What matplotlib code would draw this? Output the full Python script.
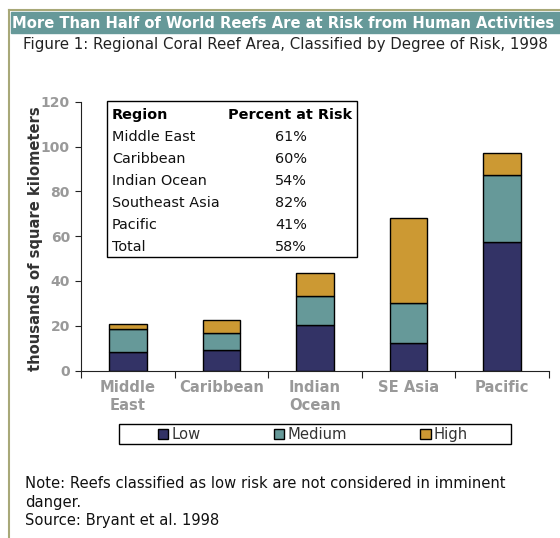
import matplotlib.pyplot as plt
from matplotlib.patches import Rectangle, Patch
import numpy as np

# data (thousands of km2)
regions = ["Middle\nEast", "Caribbean", "Indian\nOcean", "SE Asia", "Pacific"]
low = [8.2, 9.0, 20.1, 12.5, 57.2]
medium = [10.2, 7.6, 13.2, 17.8, 30.1]
high = [2.5, 5.9, 10.3, 37.8, 9.6]

table_regions = ["Middle East", "Caribbean", "Indian Ocean", "Southeast Asia", "Pacific", "Total"]
table_pct = ["61%", "60%", "54%", "82%", "41%", "58%"]

c_low = "#333366"
c_med = "#669999"
c_high = "#cc9933"
teal = "#669999"
olive = "#a8a878"

W, H = 560, 538
fig = plt.figure(figsize=(W / 100, H / 100), dpi=100)
plt.rcParams['font.family'] = ['DejaVu Sans']

def fx(x):
    return x / W

def fy(y):
    return 1 - y / H

# frame + title bar
fig.add_artist(plt.Line2D([fx(9), fx(9)], [fy(10), 0], color=olive, lw=1.5))
fig.add_artist(plt.Line2D([fx(9), 1], [fy(10), fy(10)], color=olive, lw=1.5))
fig.add_artist(Rectangle((fx(11), fy(33)), 1 - fx(11), fy(12) - fy(33), color=teal))
fig.text(fx(12), fy(23), "More Than Half of World Reefs Are at Risk from Human Activities",
         color="white", fontweight="bold", fontsize=10.6, va="center", ha="left")
fig.text(fx(23), fy(44), "Figure 1: Regional Coral Reef Area, Classified by Degree of Risk, 1998",
         color="#222222", fontsize=10.8, va="center", ha="left")

ax = fig.add_axes([fx(81), fy(370.5), fx(549) - fx(81), fy(101.7) - fy(370.5)])
x = np.arange(len(regions))
bw = 0.4
ax.bar(x, low, bw, color=c_low, edgecolor="black", lw=1)
ax.bar(x, medium, bw, bottom=low, color=c_med, edgecolor="black", lw=1)
ax.bar(x, high, bw, bottom=np.array(low) + np.array(medium), color=c_high, edgecolor="black", lw=1)

ax.set_xlim(-0.5, len(regions) - 0.5)
ax.set_ylim(0, 120)
ax.set_yticks(np.arange(0, 121, 20))
ax.set_xticks(np.arange(-0.5, len(regions), 1))
ax.set_xticklabels([])
ax.set_xticks(x, minor=True)
ax.set_xticklabels(regions, minor=True, color="#999999", fontweight="bold", fontsize=10.6,
                   linespacing=1.2)
ax.tick_params(axis="x", which="minor", length=0, pad=7)
ax.tick_params(axis="x", which="major", length=5, color="#222222", direction="out")
ax.tick_params(axis="y", length=4, color="#222222", labelcolor="#999999", labelsize=10, pad=4)
for t in ax.get_yticklabels():
    t.set_fontweight("bold")
for s in ["top", "right"]:
    ax.spines[s].set_visible(False)
ax.spines["left"].set_color("#222222")
ax.spines["bottom"].set_color("#222222")
ax.set_ylabel("thousands of square kilometers", fontweight="bold", fontsize=10.6, color="#333333")
ax.yaxis.set_label_coords((43 - 81) / 468, 0.49)

# inset table
fig.add_artist(Rectangle((fx(107), fy(257)), fx(357) - fx(107), fy(101) - fy(257),
                         fill=False, ec="black", lw=1))
fig.text(fx(112), fy(115), "Region", fontweight="bold", fontsize=10.4, va="center", color="black")
fig.text(fx(228), fy(115), "Percent at Risk", fontweight="bold", fontsize=10.4, va="center", color="black")
for i, (r, p) in enumerate(zip(table_regions, table_pct)):
    yy = fy(137 + 22 * i)
    fig.text(fx(112), yy, r, fontsize=10.4, va="center", color="#111111")
    fig.text(fx(291), yy, p, fontsize=10.4, va="center", ha="center", color="#111111")

# legend
fig.add_artist(Rectangle((fx(119), fy(444)), fx(511) - fx(119), fy(424) - fy(444),
                         fill=False, ec="black", lw=1))
handles = [Patch(fc=c, ec="black", lw=1) for c in [c_low, c_med, c_high]]
fig.legend(handles, ["Low", "Medium", "High"], ncol=3, frameon=False,
           loc="center left", bbox_to_anchor=(fx(158), fy(434.5)),
           handlelength=0.7, handleheight=0.7, handletextpad=0.2, columnspacing=5.0,
           fontsize=10.6, labelcolor="#333333", borderaxespad=0, borderpad=0)

# notes
fig.text(fx(25), fy(483), "Note: Reefs classified as low risk are not considered in imminent",
         fontsize=10.6, va="center", color="#111111")
fig.text(fx(25), fy(502), "danger.", fontsize=10.6, va="center", color="#111111")
fig.text(fx(25), fy(521), "Source: Bryant et al. 1998", fontsize=10.6, va="center", color="#111111")

fig.savefig("out.png", dpi=100)
